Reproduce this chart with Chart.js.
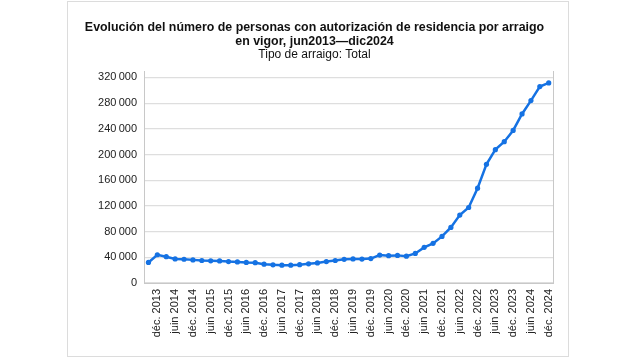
<!DOCTYPE html>
<html>
<head>
<meta charset="utf-8">
<script src="https://cdn.jsdelivr.net/npm/chart.js@4"></script>
<style>
  body { margin: 0; background: #fff; }
  #cadre {
    position: absolute; left: 67px; top: 1px;
    width: 500px; height: 354px;
    border: 1px solid #dcdcdc; background: #fff;
  }
</style>
</head>
<body>
<div id="cadre"><canvas id="graf"></canvas></div>
<script>
// trimestres (sept. 2013 -> déc. 2024)
const trimestres = [
  "sept. 2013", "déc. 2013",
  "mars 2014", "juin 2014", "sept. 2014", "déc. 2014",
  "mars 2015", "juin 2015", "sept. 2015", "déc. 2015",
  "mars 2016", "juin 2016", "sept. 2016", "déc. 2016",
  "mars 2017", "juin 2017", "sept. 2017", "déc. 2017",
  "mars 2018", "juin 2018", "sept. 2018", "déc. 2018",
  "mars 2019", "juin 2019", "sept. 2019", "déc. 2019",
  "mars 2020", "juin 2020", "sept. 2020", "déc. 2020",
  "mars 2021", "juin 2021", "sept. 2021", "déc. 2021",
  "mars 2022", "juin 2022", "sept. 2022", "déc. 2022",
  "mars 2023", "juin 2023", "sept. 2023", "déc. 2023",
  "mars 2024", "juin 2024", "sept. 2024", "déc. 2024"
];

// personas con autorización por arraigo
const personas = [
  32000, 44000,
  41000, 37500, 37000, 36000,
  35000, 34500, 34300, 33300,
  32800, 32000, 31600, 29300,
  28300, 27800, 27800, 28600,
  29800, 31300, 33300, 35000,
  36800, 37500, 37200, 38000,
  43500, 42500, 43000, 41800,
  46000, 55500, 61700, 72500,
  86500, 105700, 117500, 147600,
  184800, 207600, 220000, 237500,
  263200, 284000, 305800, 311500
];

const titre = [
  "Evolución del número de personas con autorización de residencia por arraigo",
  "en vigor, jun2013\u2014dic2024"
];
const sousTitre = "Tipo de arraigo: Total";
const ticksY = [0, 40000, 80000, 120000, 160000, 200000, 240000, 280000, 320000];

const police = "'Liberation Sans', Arial, sans-serif";
Chart.defaults.font.family = police;
Chart.defaults.color = "#222";

// bordure droite du cadre du graphique
const bordDroit = {
  id: "bordDroit",
  afterDraw(chart) {
    const a = chart.chartArea;
    const ctx = chart.ctx;
    ctx.save();
    ctx.strokeStyle = "#c8c8c8";
    ctx.lineWidth = 1;
    ctx.beginPath();
    ctx.moveTo(Math.round(a.right) + 0.5, a.top);
    ctx.lineTo(Math.round(a.right) + 0.5, a.bottom);
    ctx.stroke();
    ctx.restore();
  }
};

function formatFr(v) {
  return v.toLocaleString("fr-FR").replace(/\s/g, "\u202f");
}

const ctx = document.getElementById("graf").getContext("2d");
new Chart(ctx, {
  type: "line",
  data: {
    labels: trimestres,
    datasets: [{
      data: personas,
      borderColor: "#1572e3",
      backgroundColor: "#1572e3",
      borderWidth: 2.5,
      pointRadius: 2.6,
      pointBorderWidth: 0,
      tension: 0
    }]
  },
  options: {
    responsive: true,
    maintainAspectRatio: false,
    animation: false,
    layout: { padding: { left: 0, right: 7, top: 0, bottom: 0 } },
    plugins: {
      legend: { display: false },
      tooltip: { enabled: false },
      title: {
        display: true,
        text: titre,
        font: { size: 12.4, weight: "bold", lineHeight: 1.13 },
        color: "#111",
        padding: { top: 19, bottom: 0 }
      },
      subtitle: {
        display: true,
        text: sousTitre,
        font: { size: 12, lineHeight: 1.0 },
        color: "#111",
        padding: { top: 0, bottom: 10 }
      }
    },
    scales: {
      x: {
        offset: true,
        grid: { display: false, drawTicks: false },
        border: { display: true, color: "#c8c8c8" },
        ticks: {
          autoSkip: false,
          minRotation: 90,
          maxRotation: 90,
          padding: 6,
          font: { size: 11 },
          color: "#222",
          callback: function (val, i) {
            return i % 2 === 1 ? this.getLabelForValue(val) : "";
          }
        },
        afterFit: (s) => { s.height = 73; }
      },
      y: {
        min: 0,
        max: 330000,
        afterBuildTicks: (s) => { s.ticks = ticksY.map(v => ({ value: v })); },
        grid: { color: "#dedede", lineWidth: 1.2, drawTicks: false },
        border: { display: true, color: "#c8c8c8" },
        ticks: {
          padding: 7,
          font: { size: 11 },
          color: "#222",
          callback: (v) => formatFr(v)
        },
        afterFit: (s) => { s.width = 76; }
      }
    }
  },
  plugins: [bordDroit]
});
</script>
</body>
</html>
